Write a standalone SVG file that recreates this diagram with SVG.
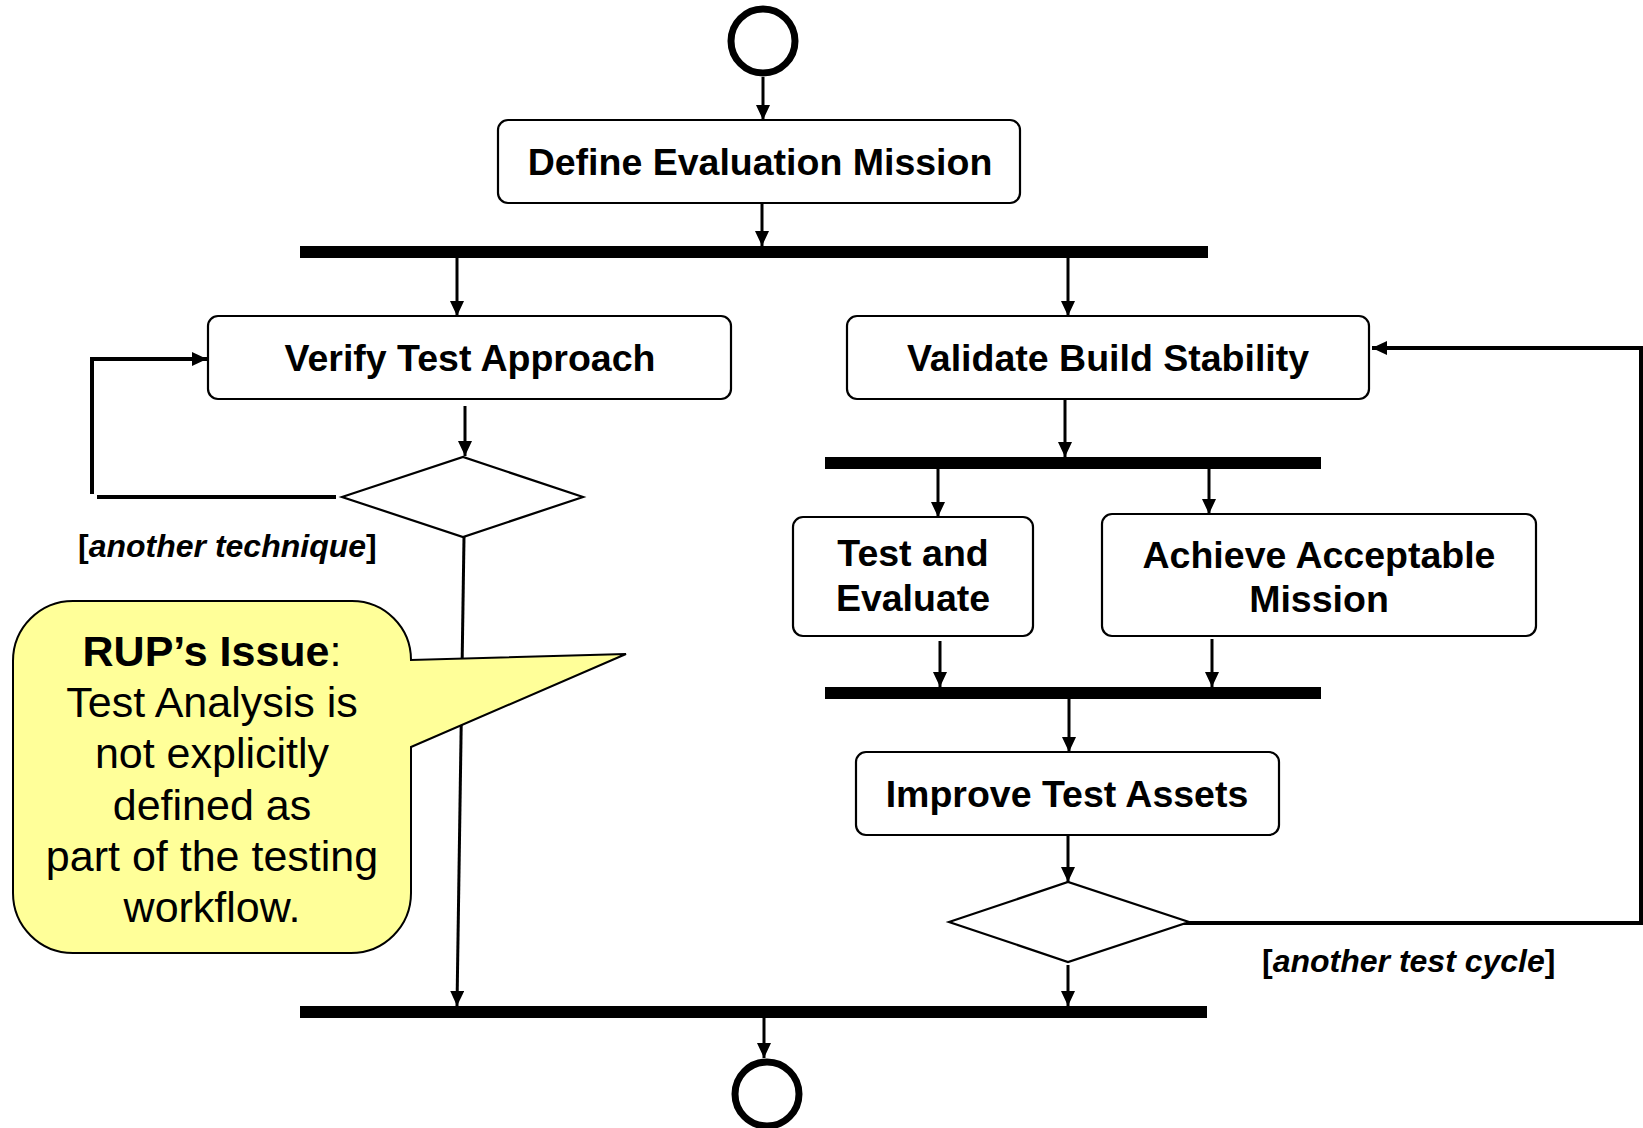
<svg xmlns="http://www.w3.org/2000/svg" width="1643" height="1128" viewBox="0 0 1643 1128">
  <style>
    .act { fill: #ffffff; stroke: #000000; stroke-width: 2.2; }
    .bar { fill: #000000; }
    .dec { fill: #ffffff; stroke: #000000; stroke-width: 2.2; }
    .state { fill: #ffffff; stroke: #000000; stroke-width: 7; }
    .flow { fill: none; stroke: #000000; stroke-width: 3; }
    .loop { fill: none; stroke: #000000; stroke-width: 4; }
    .lbl { font-family: "Liberation Sans", Arial, sans-serif; font-weight: bold; font-size: 37.5px; fill: #000000; text-anchor: middle; }
    .guard { font-family: "Liberation Sans", Arial, sans-serif; font-weight: bold; font-size: 32px; fill: #000000; }
    .note { font-family: "Liberation Sans", Arial, sans-serif; font-size: 43px; fill: #000000; text-anchor: middle; }
  </style>
  <defs>
    <marker id="arrow" viewBox="0 0 15 14" refX="15" refY="7" markerWidth="15" markerHeight="14" markerUnits="userSpaceOnUse" orient="auto">
      <path d="M0,0 L15,7 L0,14 z" fill="#000000"/>
    </marker>
  </defs>

  <rect width="1643" height="1128" fill="#ffffff"/>

  <!-- connectors -->
  <g id="connectors">
    <line class="flow" x1="763" y1="77" x2="763" y2="120" marker-end="url(#arrow)"/>
    <line class="flow" x1="762" y1="203" x2="762" y2="246" marker-end="url(#arrow)"/>
    <line class="flow" x1="457" y1="258" x2="457" y2="316" marker-end="url(#arrow)"/>
    <line class="flow" x1="1068" y1="258" x2="1068" y2="316" marker-end="url(#arrow)"/>
    <line class="flow" x1="465" y1="406" x2="465" y2="456" marker-end="url(#arrow)"/>
    <line class="loop" x1="336" y1="497" x2="97" y2="497"/>
    <path class="loop" d="M92,494 V359 H207" marker-end="url(#arrow)"/>
    <line class="flow" x1="464" y1="537" x2="457" y2="1006" marker-end="url(#arrow)"/>
    <line class="flow" x1="1065" y1="396" x2="1065" y2="457" marker-end="url(#arrow)"/>
    <line class="flow" x1="938" y1="469" x2="938" y2="517" marker-end="url(#arrow)"/>
    <line class="flow" x1="1209" y1="469" x2="1209" y2="514" marker-end="url(#arrow)"/>
    <line class="flow" x1="940" y1="641" x2="940" y2="687" marker-end="url(#arrow)"/>
    <line class="flow" x1="1212" y1="639" x2="1212" y2="687" marker-end="url(#arrow)"/>
    <line class="flow" x1="1069" y1="699" x2="1069" y2="752" marker-end="url(#arrow)"/>
    <line class="flow" x1="1068" y1="835" x2="1068" y2="882" marker-end="url(#arrow)"/>
    <path class="loop" d="M1183,923 H1641 V348 H1372" marker-end="url(#arrow)"/>
    <line class="flow" x1="1068" y1="965" x2="1068" y2="1006" marker-end="url(#arrow)"/>
    <line class="flow" x1="764" y1="1018" x2="764" y2="1058" marker-end="url(#arrow)"/>
  </g>

  <!-- start and end states -->
  <g id="start">
    <circle class="state" cx="763" cy="41" r="32"/>
  </g>
  <g id="end">
    <circle class="state" cx="767" cy="1094" r="32"/>
  </g>

  <!-- activities -->
  <g id="define-evaluation-mission">
    <rect class="act" x="498" y="120" width="522" height="83" rx="10"/>
    <text class="lbl" x="760" y="175">Define Evaluation Mission</text>
  </g>
  <g id="verify-test-approach">
    <rect class="act" x="208" y="316" width="523" height="83" rx="10"/>
    <text class="lbl" x="470" y="371">Verify Test Approach</text>
  </g>
  <g id="validate-build-stability">
    <rect class="act" x="847" y="316" width="522" height="83" rx="10"/>
    <text class="lbl" x="1108" y="371">Validate Build Stability</text>
  </g>
  <g id="test-and-evaluate">
    <rect class="act" x="793" y="517" width="240" height="119" rx="10"/>
    <text class="lbl" x="913" y="566">Test and</text>
    <text class="lbl" x="913" y="611">Evaluate</text>
  </g>
  <g id="achieve-acceptable-mission">
    <rect class="act" x="1102" y="514" width="434" height="122" rx="10"/>
    <text class="lbl" x="1319" y="568">Achieve Acceptable</text>
    <text class="lbl" x="1319" y="612">Mission</text>
  </g>
  <g id="improve-test-assets">
    <rect class="act" x="856" y="752" width="423" height="83" rx="10"/>
    <text class="lbl" x="1067" y="807">Improve Test Assets</text>
  </g>

  <!-- synchronisation bars -->
  <g id="fork-1"><rect class="bar" x="300" y="246" width="908" height="12"/></g>
  <g id="fork-2"><rect class="bar" x="825" y="457" width="496" height="12"/></g>
  <g id="join-2"><rect class="bar" x="825" y="687" width="496" height="12"/></g>
  <g id="join-1"><rect class="bar" x="300" y="1006" width="907" height="12"/></g>

  <!-- decisions -->
  <g id="decision-technique">
    <polygon class="dec" points="342,497 463,457 583,497 463,537"/>
    <text class="guard" x="78" y="557">[<tspan font-style="italic">another technique</tspan>]</text>
  </g>
  <g id="decision-cycle">
    <polygon class="dec" points="949,922 1068,882 1189,922 1068,962"/>
    <text class="guard" x="1262" y="972">[<tspan font-style="italic">another test cycle</tspan>]</text>
  </g>

  <!-- callout note -->
  <g id="rup-issue-note">
    <path d="M73,601 H352 A59,59 0 0 1 411,660 L626,654 L411,747 V893 A60,60 0 0 1 351,953 H73 A60,60 0 0 1 13,893 V661 A60,60 0 0 1 73,601 Z" fill="#ffff99" stroke="#000000" stroke-width="2"/>
    <text class="note" x="212" y="666"><tspan font-weight="bold">RUP’s Issue</tspan>:</text>
    <text class="note" x="212" y="717">Test Analysis is</text>
    <text class="note" x="212" y="768">not explicitly</text>
    <text class="note" x="212" y="820">defined as</text>
    <text class="note" x="212" y="871">part of the testing</text>
    <text class="note" x="212" y="922">workflow.</text>
  </g>
</svg>
